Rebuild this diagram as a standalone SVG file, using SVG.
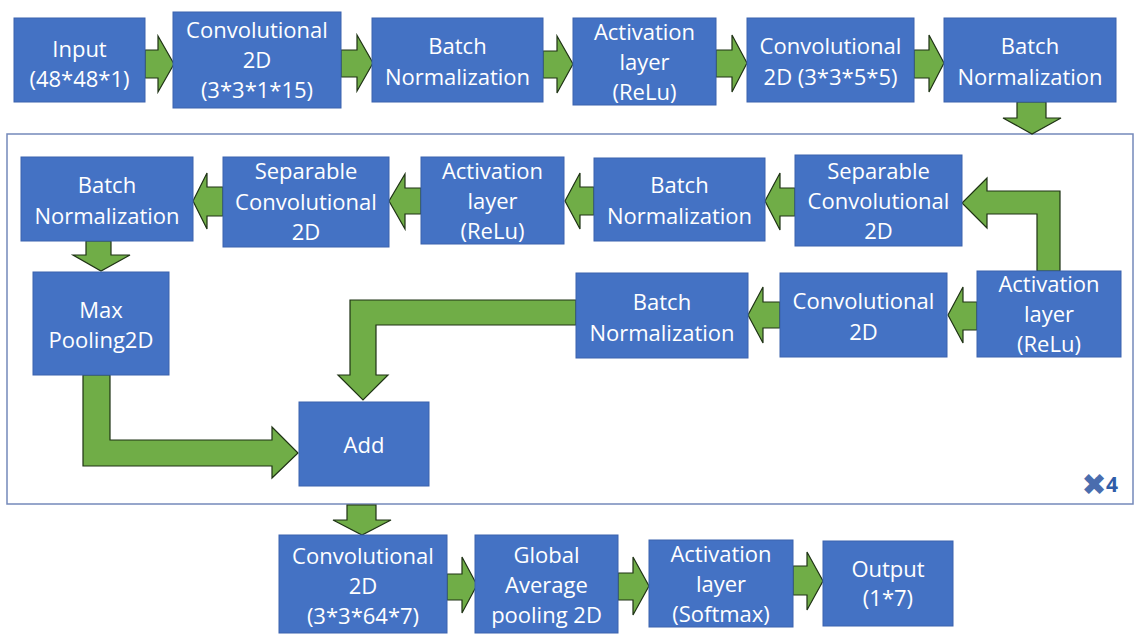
<svg xmlns="http://www.w3.org/2000/svg" width="1142" height="642" viewBox="0 0 1142 642">
<style>
.box{fill:#4472C4;stroke:#3A62AE;stroke-width:1}
.t{font-family:"Open Sans","Noto Sans","Liberation Sans",sans-serif;font-size:22px;fill:#FFFFFF;text-anchor:middle}
.arr{fill:#70AD47;stroke:#1F3315;stroke-width:1.2;stroke-linejoin:miter}
.frame{fill:none;stroke:#7489BA;stroke-width:1.5}
</style>
<rect x="0" y="0" width="1142" height="642" fill="#FFFFFF"/>
<rect id="repeat-frame" class="frame" x="7" y="134" width="1126" height="370"/>
<g id="connectors">
  <polygon class="arr" points="145,50 158,50 158,36 174,64 158,92 158,78 145,78"/>
  <polygon class="arr" points="341,50 357,50 357,35 373,63 357,91 357,77 341,77"/>
  <polygon class="arr" points="543,51 557,51 557,36 573,64 557,93 557,78 543,78"/>
  <polygon class="arr" points="716,50 732,50 732,35 747,63 732,92 732,77 716,77"/>
  <polygon class="arr" points="914,50 929,50 929,35 944,63 929,92 929,78 914,78"/>
  <polygon class="arr" points="1017,102 1046,102 1046,118 1061,118 1032,134 1003,118 1017,118"/>
  <polygon class="arr" points="223,187 207,187 207,173 193,201 207,229 207,216 223,216"/>
  <polygon class="arr" points="421,188 405,188 405,174 389,201 405,229 405,214 421,214"/>
  <polygon class="arr" points="594,187 580,187 580,173 565,201 580,229 580,215 594,215"/>
  <polygon class="arr" points="795,188 780,188 780,173 765,201 780,230 780,216 795,216"/>
  <polygon class="arr" points="1060,271 1060,191 987,191 987,178 962,203 987,228 987,214 1037,214 1037,271"/>
  <polygon class="arr" points="977,302 963,302 963,287 948,315 963,343 963,330 977,330"/>
  <polygon class="arr" points="780,302 763,302 763,287 748,315 763,343 763,328 780,328"/>
  <polygon class="arr" points="111,241 111,255 130,255 101,271 73,255 86,255 86,241"/>
  <polygon class="arr" points="576,300 350,300 350,375 338,375 363,400 388,375 376,375 376,325 576,325"/>
  <polygon class="arr" points="83,375 83,466 272,466 272,478 298,453 272,427 272,440 110,440 110,375"/>
  <polygon class="arr" points="347,505 376,505 376,520 391,520 362,535 333,520 347,520"/>
  <polygon class="arr" points="447,574 462,574 462,557 477,585 462,613 462,600 447,600"/>
  <polygon class="arr" points="618,573 633,573 633,557 649,586 633,615 633,600 618,600"/>
  <polygon class="arr" points="793,566 807,566 807,552 823,581 807,610 807,595 793,595"/>
</g>
<g id="input"><rect class="box" x="14" y="18" width="131" height="84"/><text class="t"><tspan x="79.5" y="57">Input</tspan><tspan x="79.5" y="87">(48*48*1)</tspan></text></g>
<g id="conv1"><rect class="box" x="173" y="12" width="168" height="96"/><text class="t"><tspan x="257" y="38">Convolutional</tspan><tspan x="257" y="68">2D</tspan><tspan x="257" y="98">(3*3*1*15)</tspan></text></g>
<g id="bn1"><rect class="box" x="372" y="18" width="171" height="84"/><text class="t"><tspan x="457.5" y="53.5">Batch</tspan><tspan x="457.5" y="84.5">Normalization</tspan></text></g>
<g id="act1"><rect class="box" x="573" y="18" width="143" height="87"/><text class="t"><tspan x="644.5" y="39.5">Activation</tspan><tspan x="644.5" y="69.5">layer</tspan><tspan x="644.5" y="99.5">(ReLu)</tspan></text></g>
<g id="conv2"><rect class="box" x="747" y="18" width="167" height="84"/><text class="t"><tspan x="830.5" y="53.5">Convolutional</tspan><tspan x="830.5" y="84.5">2D (3*3*5*5)</tspan></text></g>
<g id="bn2"><rect class="box" x="944" y="18" width="172" height="84"/><text class="t"><tspan x="1030" y="53.5">Batch</tspan><tspan x="1030" y="84.5">Normalization</tspan></text></g>
<g id="bn3"><rect class="box" x="21" y="157" width="172" height="84"/><text class="t"><tspan x="107" y="192.5">Batch</tspan><tspan x="107" y="223.5">Normalization</tspan></text></g>
<g id="sepconv2"><rect class="box" x="223" y="157" width="166" height="90"/><text class="t"><tspan x="306" y="179">Separable</tspan><tspan x="306" y="210">Convolutional</tspan><tspan x="306" y="240">2D</tspan></text></g>
<g id="act3"><rect class="box" x="421" y="157" width="143" height="87"/><text class="t"><tspan x="492.5" y="178.5">Activation</tspan><tspan x="492.5" y="208.5">layer</tspan><tspan x="492.5" y="238.5">(ReLu)</tspan></text></g>
<g id="bn4"><rect class="box" x="594" y="158" width="171" height="83"/><text class="t"><tspan x="679.5" y="193">Batch</tspan><tspan x="679.5" y="224">Normalization</tspan></text></g>
<g id="sepconv1"><rect class="box" x="795" y="155" width="167" height="91"/><text class="t"><tspan x="878.5" y="178.5">Separable</tspan><tspan x="878.5" y="208.5">Convolutional</tspan><tspan x="878.5" y="238.5">2D</tspan></text></g>
<g id="act2"><rect class="box" x="977" y="271" width="144" height="86"/><text class="t"><tspan x="1049" y="292">Activation</tspan><tspan x="1049" y="322">layer</tspan><tspan x="1049" y="352">(ReLu)</tspan></text></g>
<g id="conv3"><rect class="box" x="780" y="273" width="167" height="84"/><text class="t"><tspan x="863.5" y="308.5">Convolutional</tspan><tspan x="863.5" y="339.5">2D</tspan></text></g>
<g id="bn5"><rect class="box" x="576" y="273" width="172" height="85"/><text class="t"><tspan x="662" y="309.5">Batch</tspan><tspan x="662" y="340.5">Normalization</tspan></text></g>
<g id="maxpool"><rect class="box" x="33" y="272" width="136" height="103"/><text class="t"><tspan x="101" y="317.5">Max</tspan><tspan x="101" y="348">Pooling2D</tspan></text></g>
<g id="add"><rect class="box" x="299" y="402" width="130" height="84"/><text class="t" x="364" y="452.5">Add</text></g>
<g id="conv4"><rect class="box" x="279" y="535" width="168" height="98"/><text class="t"><tspan x="363" y="564">Convolutional</tspan><tspan x="363" y="594">2D</tspan><tspan x="363" y="624">(3*3*64*7)</tspan></text></g>
<g id="gap"><rect class="box" x="475" y="535" width="143" height="98"/><text class="t"><tspan x="546.5" y="563">Global</tspan><tspan x="546.5" y="593">Average</tspan><tspan x="546.5" y="623">pooling 2D</tspan></text></g>
<g id="act4"><rect class="box" x="649" y="540" width="144" height="87"/><text class="t"><tspan x="721" y="561.5">Activation</tspan><tspan x="721" y="591.5">layer</tspan><tspan x="721" y="621.5">(Softmax)</tspan></text></g>
<g id="output"><rect class="box" x="823" y="541" width="130" height="85"/><text class="t"><tspan x="888" y="577">Output</tspan><tspan x="888" y="606">(1*7)</tspan></text></g>
<g id="repeat-count"><text x="1094" y="495" font-family="DejaVu Sans, sans-serif" font-size="30" fill="#4A6DAE" text-anchor="middle">✖</text><text x="1106" y="492" font-family="Open Sans, Noto Sans, sans-serif" font-size="21" font-weight="bold" fill="#2F5DA8">4</text></g>
</svg>
